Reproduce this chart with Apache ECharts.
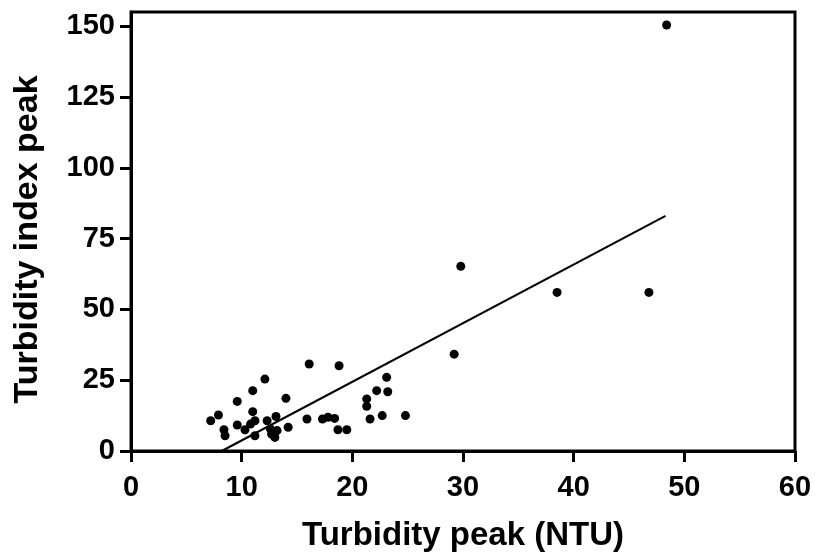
<!DOCTYPE html>
<html>
<head>
<meta charset="utf-8">
<title>Turbidity peak vs turbidity index peak</title>
<script src="https://cdn.jsdelivr.net/npm/echarts@6/dist/echarts.min.js"></script>
<style>
  html, body { margin: 0; padding: 0; background: #fff; }
  #chart { width: 816px; height: 557px; }
</style>
</head>
<body>
<div id="chart"></div>
<script>
// values
var turbidityPeak = [
  7.2, 7.9, 8.4, 8.5, 9.6, 9.6, 10.3, 10.8, 11.0, 11.0, 11.2, 11.2, 12.1, 12.3,
  12.6, 12.7, 13.0, 13.1, 13.2, 14.0, 14.2, 15.9, 16.1, 17.3, 17.8, 18.4, 18.7,
  18.8, 19.5, 21.3, 21.3, 21.6, 22.2, 22.7, 23.1, 23.2, 24.8, 29.8, 29.2, 38.5,
  46.8, 48.4
];
var indexPeak = [
  10.7, 12.7, 7.5, 5.4, 17.5, 9.2, 7.5, 9.5, 13.9, 21.3, 10.7, 5.4, 25.4, 10.7,
  7.8, 6.0, 4.8, 12.2, 7.2, 18.6, 8.4, 11.3, 30.7, 11.3, 11.9, 11.5, 7.5,
  30.1, 7.5, 18.4, 15.8, 11.3, 21.3, 12.5, 26.0, 20.9, 12.5, 65.2, 34.2, 56.0,
  56.0, 150.4
];
// fitted line as drawn (start where it meets the x axis, end at last point)
var fitX = [8.2, 48.3];
var fitY = [0, 83.0];

var xTicks = [0, 10, 20, 30, 40, 50, 60];
var yTicks = [0, 25, 50, 75, 100, 125, 150];

var points = [];
for (var i = 0; i < turbidityPeak.length; i++) {
  points.push([turbidityPeak[i], indexPeak[i]]);
}
var fitLine = [];
for (var j = 0; j < fitX.length; j++) {
  fitLine.push([fitX[j], fitY[j]]);
}

var font = '"Liberation Sans", Arial, sans-serif';
var chart = echarts.init(document.getElementById('chart'), null, { renderer: 'canvas' });

chart.setOption({
  animation: false,
  backgroundColor: '#fff',
  grid: {
    left: 131,
    right: 21,
    top: 12,
    bottom: 104,
    show: true,
    borderColor: '#000',
    borderWidth: 3
  },
  xAxis: {
    type: 'value',
    min: 0,
    max: 60,
    interval: 10,
    name: 'Turbidity peak (NTU)',
    nameLocation: 'middle',
    nameGap: 68,
    nameTextStyle: { color: '#000', fontFamily: font, fontWeight: 'bold', fontSize: 33 },
    axisLine: { lineStyle: { color: '#000', width: 3 } },
    axisTick: { show: true, length: 11, inside: false, lineStyle: { color: '#000', width: 3 }, customValues: xTicks },
    axisLabel: { color: '#000', fontFamily: font, fontWeight: 'bold', fontSize: 29, margin: 22, customValues: xTicks },
    splitLine: { show: false }
  },
  yAxis: {
    type: 'value',
    min: 0,
    max: 155,
    interval: 25,
    name: 'Turbidity index peak',
    nameLocation: 'middle',
    nameGap: 86,
    nameTextStyle: { color: '#000', fontFamily: font, fontWeight: 'bold', fontSize: 34, padding: [0, 16, 0, 0] },
    axisLine: { lineStyle: { color: '#000', width: 3 } },
    axisTick: { show: true, length: 11, inside: false, lineStyle: { color: '#000', width: 3 }, customValues: yTicks },
    axisLabel: { color: '#000', fontFamily: font, fontWeight: 'bold', fontSize: 29, margin: 16, customValues: yTicks },
    splitLine: { show: false }
  },
  series: [
    {
      type: 'line',
      data: fitLine,
      symbol: 'none',
      silent: true,
      lineStyle: { color: '#000', width: 2 },
      z: 2
    },
    {
      type: 'scatter',
      data: points,
      symbol: 'circle',
      symbolSize: 9,
      itemStyle: { color: '#000', opacity: 1 },
      z: 3
    }
  ]
});
</script>
</body>
</html>
